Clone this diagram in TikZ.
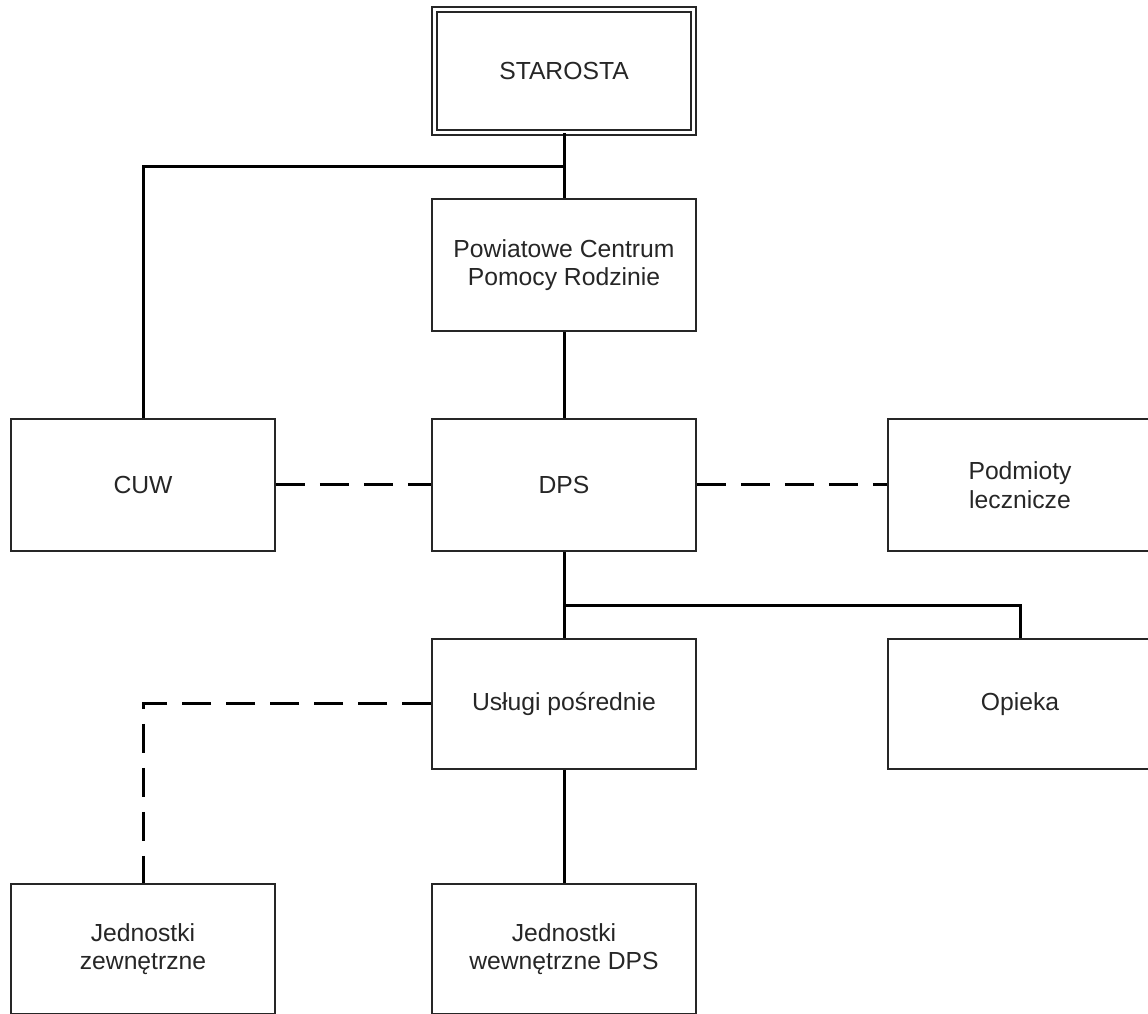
\documentclass[tikz,border=0pt]{standalone}
\usepackage{fontspec}
\setmainfont{Liberation Sans}
\begin{document}
\begin{tikzpicture}[x=1pt,y=1pt,
  box/.style={draw=black!85, line width=1.8pt, minimum width=264pt, minimum height=132pt,
    align=center, inner sep=0pt, font=\fontsize{24.7}{28.5}\selectfont, text=black!85},
  conn/.style={draw=black, line width=3pt},
  dconn/.style={draw=black, line width=3pt, dash pattern=on 29pt off 15pt}]
\useasboundingbox (0,0) rectangle (1148,1014);
\node[box, double, double distance=3.6pt, line width=1.5pt, minimum width=259pt, minimum height=123pt] (starosta) at (564,943) {STAROSTA};
\node[box] (pcpr) at (564,749) {Powiatowe Centrum\\Pomocy Rodzinie};
\node[box] (cuw) at (143,529) {CUW};
\node[box] (dps) at (564,529) {DPS};
\node[box] (pl) at (1020,529) {Podmioty\\lecznicze};
\node[box, minimum height=130pt] (uslugi) at (564,310) {Usługi pośrednie};
\node[box, minimum height=130pt] (opieka) at (1020,310) {Opieka};
\node[box, minimum height=130pt] (jz) at (143,65) {Jednostki\\zewnętrzne};
\node[box, minimum height=130pt] (jw) at (564,65) {Jednostki\\wewnętrzne DPS};
\coordinate (j1) at (564,847);
\coordinate (j2) at (564,408);
\draw[conn] (starosta.south) -- (pcpr.north);
\draw[conn] (j1) -| (cuw.north);
\draw[conn] (pcpr.south) -- (dps.north);
\draw[dconn] (cuw.east) -- (dps.west);
\draw[dconn] (dps.east) -- (pl.west);
\draw[conn] (dps.south) -- (uslugi.north);
\draw[conn] (j2) -| (opieka.north);
\draw[dconn] (uslugi.west) -| (jz.north);
\draw[conn] (uslugi.south) -- (jw.north);
\end{tikzpicture}
\end{document}
